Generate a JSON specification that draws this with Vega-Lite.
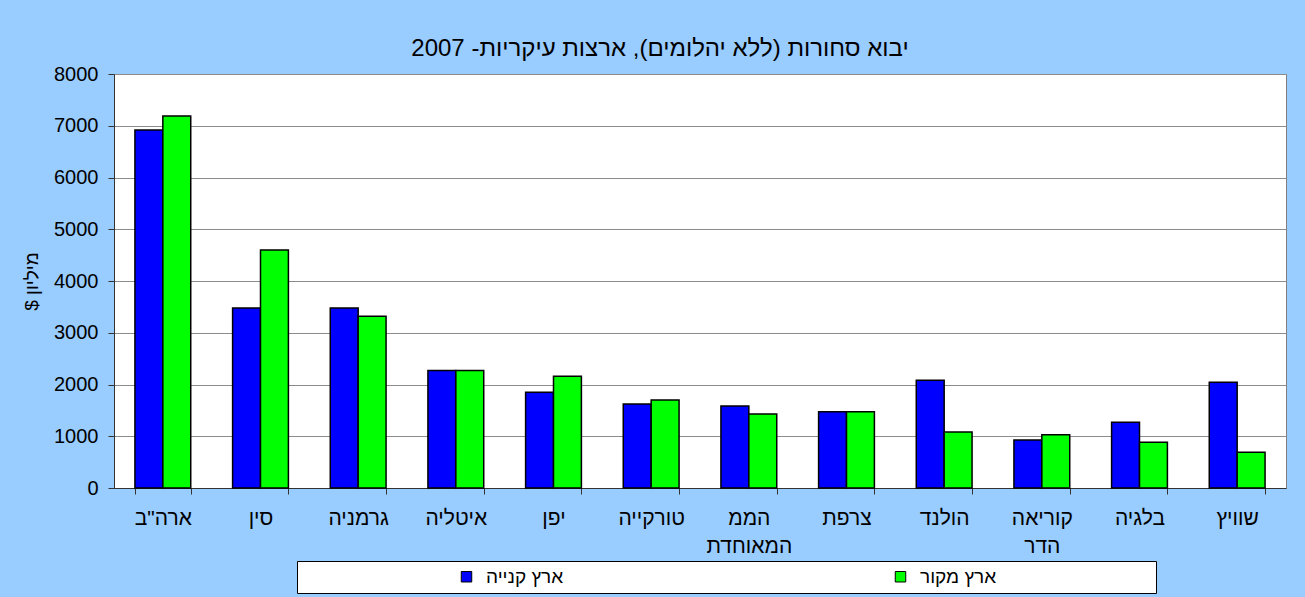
{
  "$schema": "https://vega.github.io/schema/vega-lite/v6.json",
  "width": 1172,
  "height": 414,
  "autosize": {"type": "none"},
  "padding": {"left": 114, "top": 74, "right": 19, "bottom": 109},
  "background": "#99CCFF",
  "title": {
    "text": "יבוא סחורות (ללא יהלומים), ארצות עיקריות- 2007",
    "fontSize": 24,
    "fontWeight": "normal",
    "font": "Liberation Sans",
    "color": "#000000",
    "anchor": "middle",
    "frame": "group",
    "dx": -40,
    "offset": 3
  },
  "data": {
    "values": [
      {"country": "ארה\"ב", "type": "ארץ קנייה", "value": 6920},
      {"country": "ארה\"ב", "type": "ארץ מקור", "value": 7190},
      {"country": "סין", "type": "ארץ קנייה", "value": 3480},
      {"country": "סין", "type": "ארץ מקור", "value": 4600},
      {"country": "גרמניה", "type": "ארץ קנייה", "value": 3480},
      {"country": "גרמניה", "type": "ארץ מקור", "value": 3320},
      {"country": "איטליה", "type": "ארץ קנייה", "value": 2270},
      {"country": "איטליה", "type": "ארץ מקור", "value": 2270},
      {"country": "יפן", "type": "ארץ קנייה", "value": 1850},
      {"country": "יפן", "type": "ארץ מקור", "value": 2160},
      {"country": "טורקייה", "type": "ארץ קנייה", "value": 1625},
      {"country": "טורקייה", "type": "ארץ מקור", "value": 1700},
      {"country": "הממ המאוחדת", "type": "ארץ קנייה", "value": 1583},
      {"country": "הממ המאוחדת", "type": "ארץ מקור", "value": 1430},
      {"country": "צרפת", "type": "ארץ קנייה", "value": 1472},
      {"country": "צרפת", "type": "ארץ מקור", "value": 1472},
      {"country": "הולנד", "type": "ארץ קנייה", "value": 2083},
      {"country": "הולנד", "type": "ארץ מקור", "value": 1083},
      {"country": "קוריאה הדר", "type": "ארץ קנייה", "value": 929},
      {"country": "קוריאה הדר", "type": "ארץ מקור", "value": 1031},
      {"country": "בלגיה", "type": "ארץ קנייה", "value": 1272},
      {"country": "בלגיה", "type": "ארץ מקור", "value": 885},
      {"country": "שוויץ", "type": "ארץ קנייה", "value": 2045},
      {"country": "שוויץ", "type": "ארץ מקור", "value": 690}
    ]
  },
  "mark": {"type": "bar", "stroke": "#000000", "strokeWidth": 1.5},
  "encoding": {
    "x": {
      "field": "country",
      "type": "nominal",
      "sort": null,
      "scale": {"paddingInner": 0.4286, "paddingOuter": 0.2143},
      "axis": {
        "title": null,
        "labelAngle": 0,
        "labelFontSize": 21,
        "labelFont": "Liberation Sans",
        "labelColor": "#000000",
        "labelPadding": 13,
        "labelLineHeight": 28,
        "labelExpr": "split(datum.label, ' ')",
        "labelBaseline": "top",
        "tickBand": "extent",
        "tickSize": 6,
        "tickColor": "#333333",
        "domainColor": "#333333",
        "labelLimit": 0
      }
    },
    "xOffset": {
      "field": "type",
      "type": "nominal",
      "scale": {"domain": ["ארץ קנייה", "ארץ מקור"]}
    },
    "y": {
      "field": "value",
      "type": "quantitative",
      "scale": {"domain": [0, 8000], "nice": false},
      "axis": {
        "title": "מיליון $‏",
        "titleFontSize": 19,
        "titleFont": "Liberation Sans",
        "titleFontWeight": "normal",
        "titleColor": "#000000",
        "titlePadding": 12,
        "values": [0, 1000, 2000, 3000, 4000, 5000, 6000, 7000, 8000],
        "format": "d",
        "labelFontSize": 20,
        "labelFont": "Liberation Sans",
        "labelColor": "#000000",
        "labelPadding": 10,
        "tickSize": 6,
        "tickColor": "#333333",
        "domainColor": "#333333",
        "grid": true,
        "gridColor": "#8c8c8c",
        "gridWidth": 1
      }
    },
    "color": {
      "field": "type",
      "type": "nominal",
      "scale": {"domain": ["ארץ קנייה", "ארץ מקור"], "range": ["#0000FF", "#00FF00"]},
      "legend": {
        "orient": "none",
        "legendX": 183,
        "legendY": 487,
        "direction": "horizontal",
        "columns": 2,
        "title": "\u200b\u00a0\u00a0\u00a0\u00a0\u00a0\u00a0\u00a0\u00a0\u00a0\u00a0\u00a0\u00a0\u00a0\u00a0\u00a0\u00a0\u00a0\u00a0\u00a0\u00a0\u00a0\u00a0\u00a0\u00a0\u00a0\u00a0\u00a0\u00a0\u00a0\u200b",
        "titleOrient": "left",
        "titleFont": "Liberation Sans",
        "titleFontSize": 19,
        "titlePadding": 0,
        "labelExpr": "datum.label == 'ארץ מקור' ? datum.label + '\u00a0\u00a0\u00a0\u00a0\u00a0\u00a0\u00a0\u00a0\u00a0\u00a0\u00a0\u00a0\u00a0\u00a0\u00a0\u00a0\u00a0\u00a0\u00a0\u00a0\u00a0\u00a0\u00a0\u00a0\u00a0\u00a0\u00a0\u00a0\u00a0\u200b' : datum.label",
        "labelFontSize": 19,
        "labelFont": "Liberation Sans",
        "labelColor": "#000000",
        "labelLimit": 0,
        "labelOffset": 10,
        "symbolType": "square",
        "symbolSize": 110,
        "symbolStrokeColor": "#000000",
        "symbolStrokeWidth": 1,
        "columnPadding": 327,
        "padding": 6,
        "fillColor": "#FFFFFF",
        "strokeColor": "#000000"
      }
    }
  },
  "config": {
    "view": {"fill": "#FFFFFF", "stroke": "#808080", "strokeWidth": 1},
    "font": "Liberation Sans"
  }
}
